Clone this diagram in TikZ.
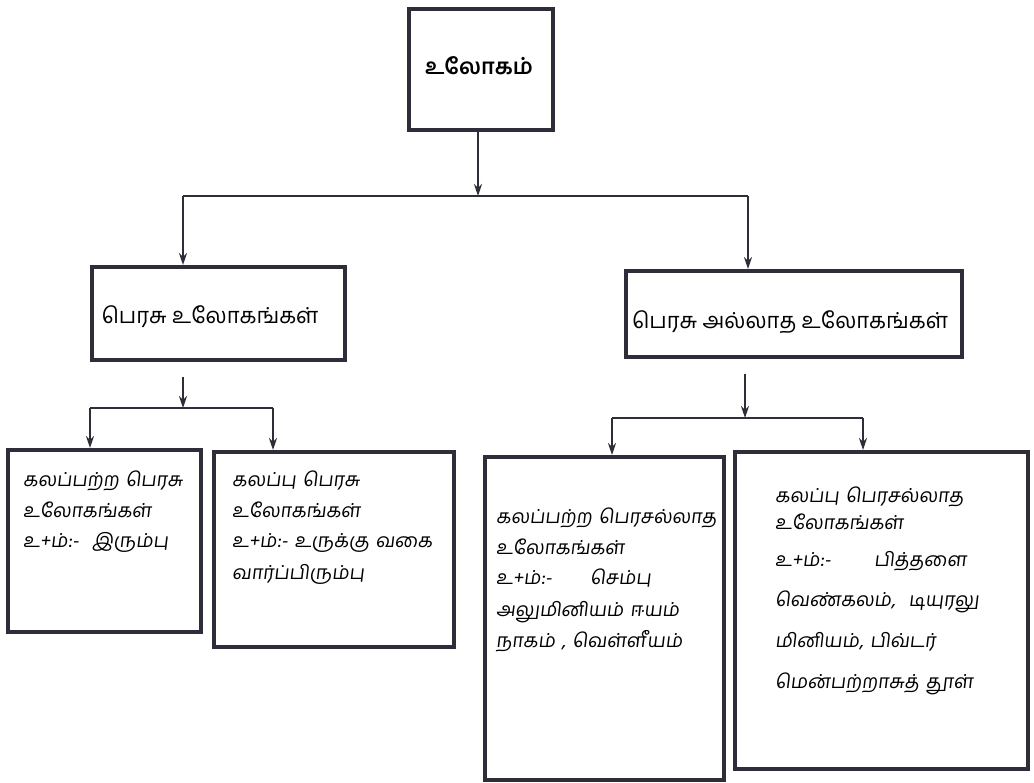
\documentclass[tikz,border=0pt]{standalone}
\usepackage{fontspec}
\usetikzlibrary{arrows.meta}
\newfontfamily\tamil[Script=Tamil]{Hind Madurai}
\newfontfamily\tamilsl[Script=Tamil,FakeSlant=0.12]{Hind Madurai}
\definecolor{ink}{HTML}{2E2E3A}
\begin{document}
\begin{tikzpicture}[x=1pt,y=-1pt,
  box/.style={draw=ink,line width=3.6pt,fill=white,inner sep=0pt,anchor=north west},
  conn/.style={draw=ink,line width=1.8pt},
  arr/.style={conn,-{Stealth[length=12pt,width=8pt]}},
  midtxt/.style={inner sep=0pt,font=\tamil\fontsize{22}{28}\selectfont},
  toptxt/.style={inner sep=0pt,font=\tamil\bfseries\fontsize{22}{28}\selectfont},
  lbl/.style={inner sep=0pt,anchor=base west,align=left,text width=#1,
    font=\tamilsl\fontsize{19.3}{31}\selectfont}]
\useasboundingbox (0,0) rectangle (1034,783);
\fill[white] (0,0) rectangle (1034,783);

% boxes
\node[box,minimum width=144pt,minimum height=121pt] (top) at (407,7) {};
\node[box,minimum width=253pt,minimum height=93pt] (midL) at (90,265) {};
\node[box,minimum width=336pt,minimum height=86pt] (midR) at (624,269) {};
\node[box,minimum width=193pt,minimum height=182pt] (bA) at (6,448) {};
\node[box,minimum width=240pt,minimum height=195pt] (bB) at (212,450) {};
\node[box,minimum width=239pt,minimum height=323pt] (bC) at (483,455) {};
\node[box,minimum width=293pt,minimum height=317pt] (bD) at (733,450) {};

% texts
\node[toptxt] (tTop) at (479,66) {உலோகம்};
\node[midtxt] (tL) at (210,317) {பெரசு உலோகங்கள்};
\node[midtxt] (tR) at (790,322) {பெரசு அல்லாத உலோகங்கள்};
\node[lbl=185pt] (tA) at (23,486) {கலப்பற்ற பெரசு\\உலோகங்கள்\\உ+ம்:-\ \ இரும்பு};
\node[lbl=215pt] (tB) at (232,486) {கலப்பு பெரசு\\உலோகங்கள்\\உ+ம்:- உருக்கு வகை\\வார்ப்பிரும்பு};
\node[lbl=270pt] (tC) at (496,523) {கலப்பற்ற பெரசல்லாத\\உலோகங்கள்\\உ+ம்:-\hspace{38pt}செம்பு\\அலுமினியம் ஈயம்\\நாகம் , வெள்ளீயம்};
\node[lbl=245pt] (tD) at (775,503) {கலப்பு பெரசல்லாத\\[-4pt]உலோகங்கள்\\[6pt]உ+ம்:-\hspace{43pt}பித்தளை\\[9pt]வெண்கலம்,\ \ டியுரலு\\[10pt]மினியம், பிவ்டர்\\[10pt]மென்பற்றாசுத் தூள்};

% junction coordinates
\coordinate (j0) at (478,196);
\coordinate (hL) at (183,196);
\coordinate (hR) at (748,196);
\coordinate (jL) at (183,408);
\coordinate (lA) at (90,408);
\coordinate (lB) at (273,408);
\coordinate (jR) at (745,418);
\coordinate (rC) at (612,418);
\coordinate (rD) at (863,418);

% connectors
\draw[arr] (top.south -| j0) -- (j0);
\draw[conn] (hL) -- (hR);
\draw[arr] (hL) -- (hL |- midL.north);
\draw[arr] (hR) -- (hR |- midR.north);

\draw[arr] ([yshift=-15pt]midL.south -| jL) -- (jL);
\draw[conn] (lA) -- (lB);
\draw[arr] (lA) -- (lA |- bA.north);
\draw[arr] (lB) -- (lB |- bB.north);

\draw[arr] ([yshift=-15pt]midR.south -| jR) -- (jR);
\draw[conn] (rC) -- (rD);
\draw[arr] (rC) -- (rC |- bC.north);
\draw[arr] (rD) -- (rD |- bD.north);
\end{tikzpicture}
\end{document}
